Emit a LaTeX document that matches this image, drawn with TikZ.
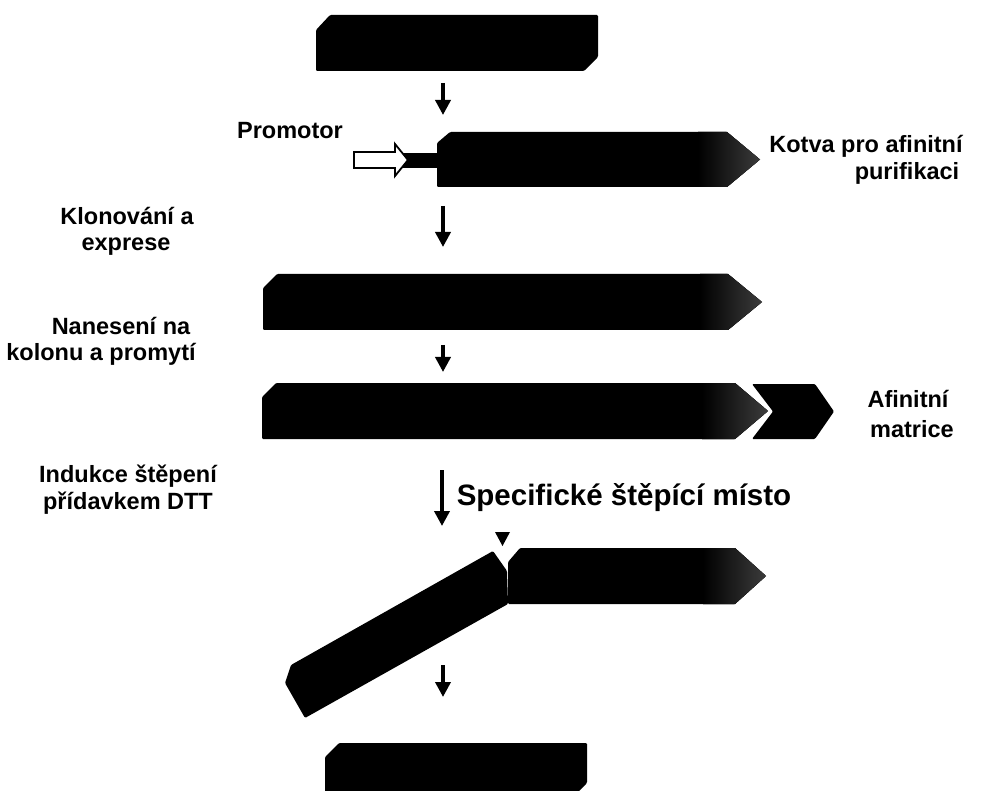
\documentclass[tikz,border=0pt]{standalone}
\usepackage{fontspec}
\setmainfont{Liberation Sans}
\usetikzlibrary{arrows.meta}
\begin{document}
\begin{tikzpicture}[x=1pt,y=-1pt,
  lbl/.style={font=\bfseries\fontsize{23.5}{28}\selectfont, inner sep=0pt},
  big/.style={font=\bfseries\fontsize{29.5}{34}\selectfont, inner sep=0pt},
  blk/.style={fill=black, rounded corners=1.2pt},
  flow/.style={line width=3.6pt, -{Triangle[width=15pt,length=15pt]}},
  tag/.style={left color=black, right color=black!75!white}
]
\useasboundingbox (0,0) rectangle (1001,791);
\clip (0,0) rectangle (1001,791);

% top box
\fill[blk] (316,30) -- (330,15) -- (598,15) -- (598,57) -- (584,71) -- (316,71) -- cycle;

% promotor + construct
\fill[black] (400,153) rectangle (438,168);
\draw[line width=1.8pt, fill=white, line join=miter]
  (354,152) -- (395,152) -- (395,144) -- (408,160) -- (395,176) -- (395,168) -- (354,168) -- cycle;
\fill[blk] (437,143) -- (450,132) -- (727,132) -- (760,159.5) -- (727,187) -- (437,187) -- cycle;
\begin{scope}
  \clip (437,143) -- (450,132) -- (727,132) -- (760,159.5) -- (727,187) -- (437,187) -- cycle;
  \fill[tag] (698,125) rectangle (765,195);
\end{scope}

% row 3
\fill[blk] (263,288) -- (277,274) -- (728,274) -- (762,302) -- (728,330) -- (263,330) -- cycle;
\begin{scope}
  \clip (263,288) -- (277,274) -- (728,274) -- (762,302) -- (728,330) -- (263,330) -- cycle;
  \fill[tag] (700,270) rectangle (766,335);
\end{scope}

% row 4
\fill[blk] (262,397) -- (276,383) -- (735,383) -- (768,411) -- (735,439) -- (262,439) -- cycle;
\begin{scope}
  \clip (262,397) -- (276,383) -- (735,383) -- (768,411) -- (735,439) -- (262,439) -- cycle;
  \fill[tag] (702,378) rectangle (772,445);
\end{scope}
\fill[blk] (752,384) -- (815,384) -- (834,411.5) -- (815,439) -- (752,439) -- (773,411.5) -- cycle;

% row 5: cleaved
\fill[blk] (291,665) -- (493,551) -- (507,571) -- (508,604) -- (305,718) -- (285,683) -- cycle;
\fill[blk] (508,562) -- (520,548) -- (735,548) -- (766,576) -- (735,604) -- (508,604) -- cycle;
\begin{scope}
  \clip (508,562) -- (520,548) -- (735,548) -- (766,576) -- (735,604) -- (508,604) -- cycle;
  \fill[tag] (703,540) rectangle (770,610);
\end{scope}
\fill[black] (495,532) -- (510,532) -- (502.5,546) -- cycle;

% bottom box
\fill[blk] (325,757) -- (339,743) -- (587,743) -- (587,783) -- (573,797) -- (325,797) -- cycle;

% arrows
\coordinate (a1s) at (443,83);  \coordinate (a1e) at (443,115);
\coordinate (a2s) at (443,206); \coordinate (a2e) at (443,247);
\coordinate (a3s) at (443,345); \coordinate (a3e) at (443,372);
\coordinate (a4s) at (442,470); \coordinate (a4e) at (442,526);
\coordinate (a5s) at (443,665); \coordinate (a5e) at (443,697);
\draw[flow] (a1s) -- (a1e);
\draw[flow] (a2s) -- (a2e);
\draw[flow] (a3s) -- (a3e);
\draw[flow] (a4s) -- (a4e);
\draw[flow] (a5s) -- (a5e);

% labels
\node[lbl] (prom) at (290,131) {Promotor};
\node[lbl] (kot1) at (866,146) {Kotva pro afinitní};
\node[lbl] (kot2) at (907,173) {purifikaci};
\node[lbl] (klo1) at (127,216) {Klonování a};
\node[lbl] (klo2) at (126,247) {exprese};
\node[lbl] (nan1) at (121,326) {Nanesení na};
\node[lbl] (nan2) at (101,354) {kolonu a promytí};
\node[lbl] (afi1) at (908,399) {Afinitní};
\node[lbl] (afi2) at (912,429) {matrice};
\node[lbl] (ind1) at (128,476) {Indukce štěpení};
\node[lbl] (ind2) at (128,503) {přídavkem DTT};
\node[big] (spec) at (624,498) {Specifické štěpící místo};
\end{tikzpicture}
\end{document}
